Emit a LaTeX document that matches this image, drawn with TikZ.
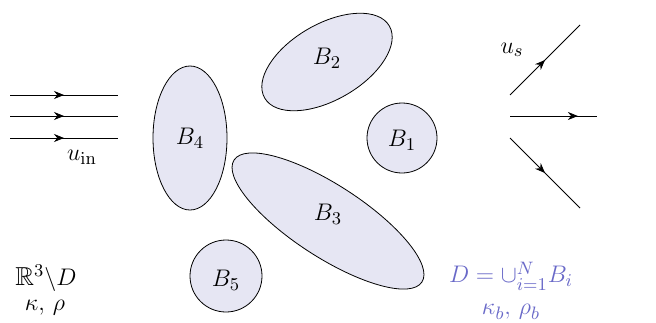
\documentclass[tikz,border=0pt]{standalone}
\usepackage{amsmath,amssymb}
\usepackage{tikz}
\usetikzlibrary{arrows.meta,decorations.markings}
\definecolor{bodyfill}{RGB}{230,230,243}
\definecolor{bodytext}{RGB}{105,105,200}

\begin{document}
\begin{tikzpicture}[
    x=0.5pt, y=-0.5pt,
    body/.style={draw, fill=bodyfill, thin},
    wave/.style={thin, postaction={decorate}, decoration={markings,
        mark=at position #1 with {\arrow{Stealth[length=5pt,width=4pt]}}}},
    wave/.default=0.5,
    lbl/.style={font=\fontsize{13}{15}\selectfont, inner sep=0pt}
]
\useasboundingbox (0,0) rectangle (656,322);

% incident field
\coordinate (in1a) at (10,95);   \coordinate (in1b) at (118,95);
\coordinate (in2a) at (10,116);  \coordinate (in2b) at (118,116);
\coordinate (in3a) at (10,138);  \coordinate (in3b) at (118,138);
\draw[wave=0.5] (in1a) -- (in1b);
\draw[wave=0.5] (in2a) -- (in2b);
\draw[wave=0.5] (in3a) -- (in3b);
\node[lbl] (uin) at (82,157) {$u_{\mathrm{in}}$};

% scatterers
\draw[body] (190,138) ellipse [x radius=37, y radius=72];
\node[lbl] (B4) at (190,138) {$B_4$};
\draw[body, rotate around={30:(327,62)}] (327,62) ellipse [x radius=72, y radius=38];
\node[lbl] (B2) at (327,58) {$B_2$};
\draw[body] (402,138) circle [radius=35];
\node[lbl] (B1) at (402,140) {$B_1$};
\draw[body, rotate around={-33:(328,221)}] (328,221) ellipse [x radius=112, y radius=36];
\node[lbl] (B3) at (328,214) {$B_3$};
\draw[body] (226,276) circle [radius=36];
\node[lbl] (B5) at (226,280) {$B_5$};

% scattered field
\coordinate (out0) at (510,95);  \coordinate (out1) at (580,25);
\coordinate (mid0) at (510,116); \coordinate (mid1) at (597,116);
\coordinate (low0) at (510,138); \coordinate (low1) at (580,208);
\draw[wave=0.5] (out0) -- (out1);
\draw[wave=0.78] (mid0) -- (mid1);
\draw[wave=0.5] (low0) -- (low1);
\node[lbl] (us) at (512,50) {$u_s$};

% media
\node[lbl] (ext) at (46,278) {$\mathbb{R}^3\backslash D$};
\node[lbl] (extp) at (45,308) {$\kappa,\,\rho$};
\node[lbl, text=bodytext] (dom) at (511,276) {$D=\cup_{i=1}^{N}B_i$};
\node[lbl, text=bodytext] (domp) at (511,312) {$\kappa_b,\,\rho_b$};
\end{tikzpicture}
\end{document}
